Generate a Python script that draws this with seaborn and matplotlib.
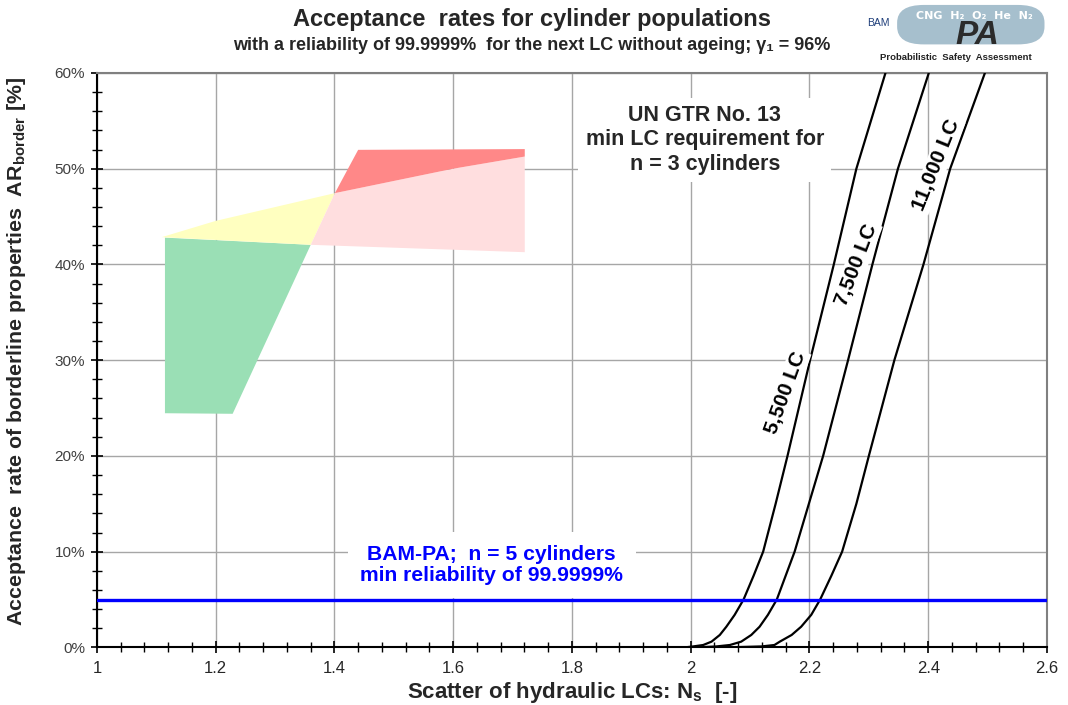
import matplotlib
matplotlib.use("Agg")
import matplotlib.pyplot as plt
from matplotlib import font_manager
from matplotlib.ticker import MultipleLocator, FuncFormatter
from matplotlib.patches import FancyBboxPatch
import seaborn as sns
import pandas as pd

# ---------------- data ----------------
curve_labels = ["5,500 LC", "7,500 LC", "11,000 LC"]
curve_y = [0, 0.1, 0.25, 0.6, 1.3, 2.16, 3.4, 5, 7.5, 10, 15, 20, 30, 40, 50, 60]
x_5500 = [1.99, 2.004, 2.021, 2.035, 2.049, 2.060, 2.074, 2.089, 2.106, 2.122,
          2.143, 2.163, 2.201, 2.241, 2.279, 2.328]
x_7500 = [2.01, 2.043, 2.066, 2.085, 2.102, 2.116, 2.130, 2.145, 2.160, 2.175,
          2.199, 2.223, 2.265, 2.306, 2.349, 2.401]
x_11000 = [2.06, 2.119, 2.141, 2.150, 2.170, 2.186, 2.203, 2.218, 2.237, 2.255,
           2.279, 2.300, 2.343, 2.392, 2.437, 2.4955]

label_pos_x = [2.160, 2.279, 2.414]
label_pos_y = [26.6, 40.0, 50.4]
label_rot = [70, 69, 68]

bam_level = 5.0  # %

green_x = [1.1145, 1.360, 1.2285, 1.1145]
green_y = [42.8, 42.05, 24.4, 24.46]
yellow_x = [1.109, 1.200, 1.4007, 1.360]
yellow_y = [42.85, 44.55, 47.45, 42.05]
pink_x = [1.360, 1.4007, 1.600, 1.7205, 1.7205]
pink_y = [42.05, 47.45, 50.0, 51.27, 41.28]
red_x = [1.4007, 1.4399, 1.7205, 1.7205, 1.600]
red_y = [47.45, 51.97, 52.05, 51.27, 50.0]

x_ticks = [1.0, 1.2, 1.4, 1.6, 1.8, 2.0, 2.2, 2.4, 2.6]
y_ticks = [0, 10, 20, 30, 40, 50, 60]

title = "Acceptance  rates for cylinder populations"
subtitle = "with a reliability of 99.9999%  for the next LC without ageing; γ\u2081 = 96%"
un_text = "UN GTR No. 13\nmin LC requirement for\nn = 3 cylinders"
bam_text = "BAM-PA;  n = 5 cylinders\nmin reliability of 99.9999%"
xlabel = "Scatter of hydraulic LCs: N$_\\mathregular{s}$  [-]"
ylabel = "Acceptance  rate of borderline properties  AR$_\\mathregular{border}$ [%]"

# ---------------- style ----------------
sns.set_theme(style="white")
names = {f.name for f in font_manager.fontManager.ttflist}
narrow = "Liberation Sans Narrow" if "Liberation Sans Narrow" in names else "Liberation Sans"
plt.rcParams["font.family"] = ["Liberation Sans", "DejaVu Sans"]
plt.rcParams["mathtext.fontset"] = "custom"
plt.rcParams["mathtext.rm"] = "Liberation Sans"
plt.rcParams["mathtext.bf"] = "Liberation Sans:bold"

fig = plt.figure(figsize=(10.68, 7.05), dpi=100)
ax = fig.add_axes([0.0908, 0.0817, 0.8895, 0.8148])

# shaded regions
ax.fill(green_x, green_y, color="#9ADFB5", lw=0, zorder=1)
ax.fill(yellow_x, yellow_y, color="#FFFFC0", lw=0, zorder=1)
ax.fill(pink_x, pink_y, color="#FFDEDF", lw=0, zorder=1)
ax.fill(red_x, red_y, color="#FF8888", lw=0, zorder=1)

# curves
df = pd.concat([
    pd.DataFrame({"x": xs, "y": curve_y, "c": lab})
    for xs, lab in zip([x_5500, x_7500, x_11000], curve_labels)
])
sns.lineplot(data=df, x="x", y="y", units="c", estimator=None, sort=False,
             color="black", lw=1.6, ax=ax, zorder=4, legend=False)

# BAM line
ax.axhline(bam_level, color="#0000FF", lw=2.4, zorder=5)

# curve labels
for lab, lx, ly, rot in zip(curve_labels, label_pos_x, label_pos_y, label_rot):
    ax.text(lx, ly, lab, rotation=rot, rotation_mode="anchor", ha="center", va="center",
            fontsize=15, fontweight="bold", color="black", zorder=6,
            bbox=dict(boxstyle="square,pad=0.08", fc="white", ec="none"))

ax.text(2.0236, 53.0, un_text, ha="center", va="center", fontsize=15.5, fontweight="bold",
        linespacing=1.2, zorder=6,
        bbox=dict(boxstyle="square,pad=0.35", fc="white", ec="none"))
ax.text(1.665, 8.6, bam_text, ha="center", va="center", fontsize=15.2, fontweight="bold",
        color="#0000FF", linespacing=1.15, zorder=6,
        bbox=dict(boxstyle="square,pad=0.6", fc="white", ec="none"))

# axes
ax.set_xlim(1.0, 2.6)
ax.set_ylim(0, 60)
ax.set_xticks(x_ticks)
ax.set_yticks(y_ticks)
ax.xaxis.set_minor_locator(MultipleLocator(0.04))
ax.yaxis.set_minor_locator(MultipleLocator(2))
ax.xaxis.set_major_formatter(FuncFormatter(lambda v, p: f"{v:g}"))
ax.yaxis.set_major_formatter(FuncFormatter(lambda v, p: f"{v:.0f}%"))
ax.grid(True, which="major", color="#A6A6A6", lw=1.0, zorder=0)
ax.set_axisbelow(True)
ax.tick_params(axis="both", which="major", direction="inout", length=9, width=1.2, color="black",
               bottom=True, left=True)
ax.tick_params(axis="both", which="minor", direction="inout", length=7, width=1.0, color="black",
               bottom=True, left=True)
ax.tick_params(axis="x", labelsize=12, pad=5)
ax.tick_params(axis="y", labelsize=11, labelcolor="#404040", pad=4)
for t in ax.get_xticklabels():
    t.set_fontfamily(narrow)
for name in ["left", "bottom"]:
    ax.spines[name].set_color("black")
    ax.spines[name].set_linewidth(1.5)
for name in ["top", "right"]:
    ax.spines[name].set_color("#808080")
    ax.spines[name].set_linewidth(1.5)

ax.set_xlabel(xlabel, fontsize=16, fontweight="bold", family=narrow, labelpad=3)
ax.set_ylabel(ylabel, fontsize=15.4, fontweight="bold")
ax.yaxis.set_label_coords(-0.0725, 0.515)

# titles
fig.text(0.498, 0.972, title, ha="center", va="center", fontsize=17, fontweight="bold")
fig.text(0.498, 0.936, subtitle, ha="center", va="center", fontsize=13, fontweight="bold",
         family=[narrow, "DejaVu Sans"])

# logo approximation
logo = FancyBboxPatch((0.84, 0.937), 0.138, 0.056, boxstyle="round,pad=0.0,rounding_size=0.025",
                      transform=fig.transFigure, fc="#9DB8C8", ec="none", alpha=0.9)
fig.patches.append(logo)
fig.text(0.812, 0.968, "BAM", fontsize=7.5, color="#1F3E7A", ha="left", va="center")
fig.text(0.858, 0.978, "CNG  H\u2082  O\u2082  He  N\u2082", fontsize=8, color="white",
         fontweight="bold", ha="left", va="center", family=["DejaVu Sans"])
fig.text(0.915, 0.950, "PA", fontsize=24, color="#2B2B2B", fontweight="bold", style="italic",
         ha="center", va="center")
fig.text(0.895, 0.919, "Probabilistic  Safety  Assessment", fontsize=6.8, color="#222222",
         fontweight="bold", ha="center", va="center")

fig.savefig("out.png", dpi=100)
